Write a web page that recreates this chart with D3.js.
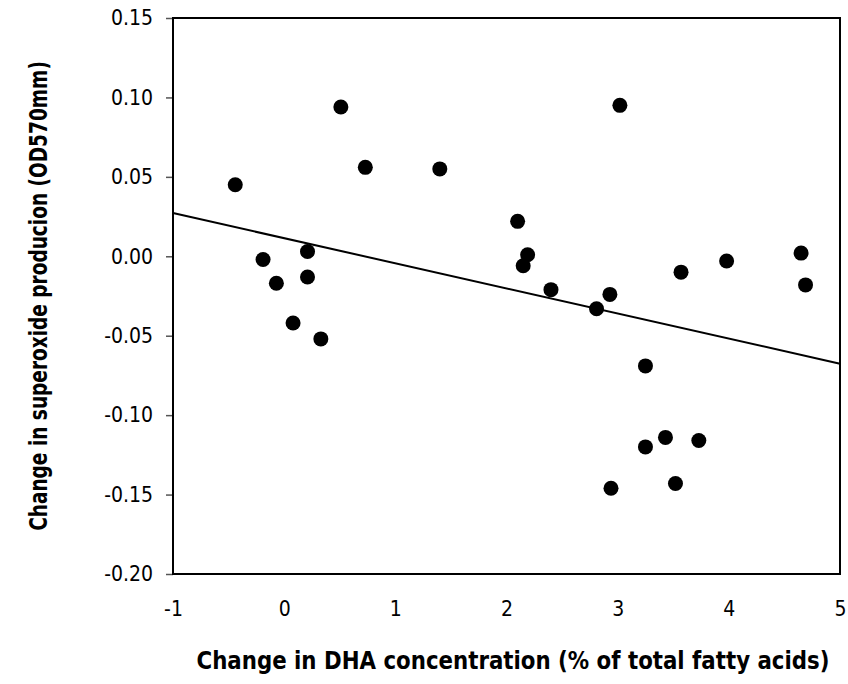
<!DOCTYPE html>
<html>
<head>
<meta charset="utf-8">
<script src="https://cdn.jsdelivr.net/npm/d3@7"></script>
<style>
  body { margin: 0; background: #fff; }
  .tick text { font-family: "DejaVu Sans Condensed", "DejaVu Sans", sans-serif; font-stretch: condensed; font-size: 21px; fill: #000; }
  .title { font-family: "DejaVu Sans Condensed", "DejaVu Sans", sans-serif; font-stretch: condensed; font-weight: bold; font-size: 25px; fill: #000; }
</style>
</head>
<body>
<div id="chart"></div>
<script>
// change in DHA (% of total fatty acids)
var dhaChange = [-0.44, -0.19, -0.07, 0.08, 0.21, 0.21, 0.33, 0.51, 0.73, 1.40,
  2.10, 2.19, 2.15, 2.40, 2.81, 2.93, 3.02, 3.57, 3.98, 4.65, 4.69,
  3.25, 3.43, 3.25, 3.73, 2.94, 3.52];
// change in superoxide production (OD570mm)
var superoxideChange = [0.045, -0.002, -0.017, -0.042, 0.003, -0.013, -0.052, 0.094, 0.056, 0.055,
  0.022, 0.001, -0.006, -0.021, -0.033, -0.024, 0.095, -0.010, -0.003, 0.002, -0.018,
  -0.069, -0.114, -0.120, -0.116, -0.146, -0.143];

var xTicks = [-1, 0, 1, 2, 3, 4, 5];
var yTicks = [-0.20, -0.15, -0.10, -0.05, 0.00, 0.05, 0.10, 0.15];

// fitted trend line
var fitIntercept = 0.0114;
var fitSlope = -0.0158;

var width = 848, height = 684;
var margin = { top: 18, right: 8, bottom: 110, left: 173 };

var svg = d3.select("#chart").append("svg")
  .attr("width", width)
  .attr("height", height);

var x = d3.scaleLinear().domain([-1, 5]).range([margin.left, width - margin.right]);
var y = d3.scaleLinear().domain([-0.20, 0.15]).range([height - margin.bottom, margin.top]);

// plain hyphen for negatives, like the original
var fmtY = function(d) { return d3.format(".2f")(d).replace("\u2212", "-"); };
var fmtX = function(d) { return d3.format("d")(d).replace("\u2212", "-"); };

// y axis
var yAxis = svg.append("g")
  .attr("transform", "translate(" + margin.left + ",0)")
  .call(d3.axisLeft(y).tickValues(yTicks).tickFormat(fmtY).tickSize(7).tickPadding(13));
yAxis.select(".domain").remove();
yAxis.selectAll(".tick line").attr("stroke", "#555").attr("stroke-width", 1.5);

// x axis (labels only)
var xAxis = svg.append("g")
  .attr("transform", "translate(0," + (height - margin.bottom) + ")")
  .call(d3.axisBottom(x).tickValues(xTicks).tickFormat(fmtX).tickSize(0).tickPadding(27));
xAxis.select(".domain").remove();

// plot frame
svg.append("rect")
  .attr("x", x(-1))
  .attr("y", y(0.15))
  .attr("width", x(5) - x(-1))
  .attr("height", y(-0.20) - y(0.15))
  .attr("fill", "none")
  .attr("stroke", "#000")
  .attr("stroke-width", 2);

// trend line
svg.append("line")
  .attr("x1", x(-1))
  .attr("y1", y(fitIntercept + fitSlope * -1))
  .attr("x2", x(5))
  .attr("y2", y(fitIntercept + fitSlope * 5))
  .attr("stroke", "#000")
  .attr("stroke-width", 2);

// points
svg.selectAll(".dot")
  .data(dhaChange)
  .enter()
  .append("circle")
  .attr("class", "dot")
  .attr("cx", function(d) { return x(d); })
  .attr("cy", function(d, i) { return y(superoxideChange[i]); })
  .attr("r", 7.5)
  .attr("fill", "#000");

// titles - squeezed horizontally to mimic a narrow bold face
function title(str, tx, ty, rot, target) {
  var t = svg.append("text")
    .attr("class", "title")
    .attr("text-anchor", "middle")
    .text(str);
  var sx = Math.min(1, target / t.node().getComputedTextLength());
  t.attr("transform", "translate(" + tx + "," + ty + ") rotate(" + rot + ") scale(" + sx + ",1)");
}
title("Change in DHA concentration (% of total fatty acids)", 513, 669, 0, 633);
title("Change in superoxide producion (OD570mm)", 47, 296, -90, 470);
</script>
</body>
</html>
